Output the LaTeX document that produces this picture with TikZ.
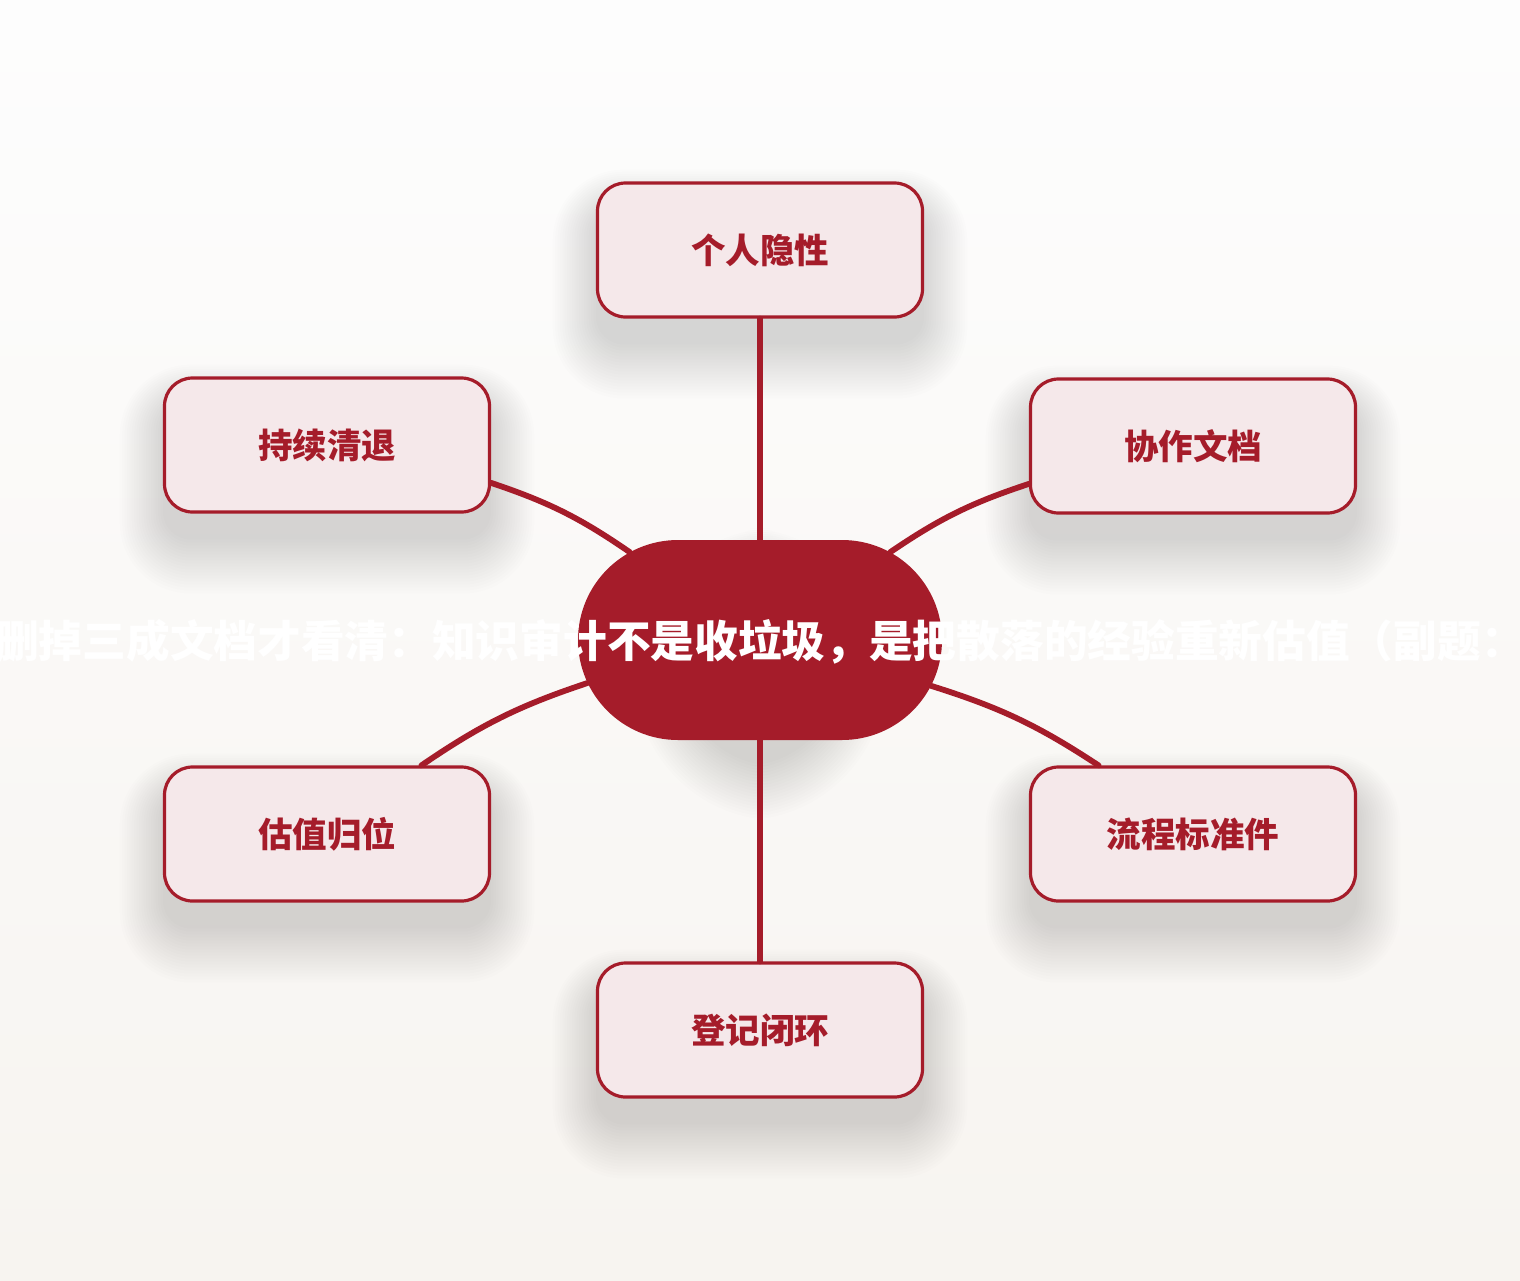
\documentclass[tikz,border=0pt]{standalone}
\usepackage{fontspec}
\newfontfamily\cjk{Noto Sans CJK SC}
\usetikzlibrary{shapes.misc}
\definecolor{brand}{HTML}{A51C2A}
\definecolor{boxfill}{HTML}{F5E8EA}
\definecolor{bgtop}{HTML}{FDFDFD}
\definecolor{bgbot}{HTML}{F7F4F0}
\definecolor{shadowtone}{HTML}{3A3A30}
\pgfdeclarelayer{bglayer}
\pgfdeclarelayer{shadowlayer}
\pgfsetlayers{bglayer,shadowlayer,main}
\newcommand\castshadow[2]{%
  \foreach \e in {0,3,...,54}{%
    \fill[shadowtone, fill opacity=0.0068, rounded corners=#2pt+0.8*\e pt]
      ([xshift=-0.8*\e pt, yshift=-26pt-\e pt]#1.south west) rectangle
      ([xshift=0.8*\e pt, yshift=-26pt+0.7*\e pt]#1.north east);
  }}
\tikzset{
  leaf/.style={draw=brand, line width=3.2pt, fill=boxfill, rounded corners=28pt,
    minimum width=325pt, minimum height=134pt, inner sep=0pt,
    font=\cjk\bfseries\fontsize{34.5pt}{40pt}\selectfont, text=brand},
  hub/.style={rounded rectangle, fill=brand, draw=none, minimum width=364pt, minimum height=200pt, inner sep=0pt},
  hubtext/.style={font=\cjk\bfseries\fontsize{43.7pt}{50pt}\selectfont, text=white, inner sep=0pt},
  link/.style={draw=brand, line width=5.8pt, line cap=round}
}
\begin{document}
\begin{tikzpicture}[x=1pt,y=-1pt]
\useasboundingbox (0,0) rectangle (1520,1280);
\clip (0,0) rectangle (1520,1280);
\begin{pgfonlayer}{bglayer}
\shade[top color=bgtop, bottom color=bgbot] (0,0) rectangle (1520,1280);
\end{pgfonlayer}

\node[hub] (c) at (760,640) {};
\node[leaf] (t) at (760,250) {个人隐性};
\node[leaf] (tl) at (327,445) {持续清退};
\node[leaf] (tr) at (1193,446) {协作文档};
\node[leaf] (bl) at (327,834) {估值归位};
\node[leaf] (br) at (1193,834) {流程标准件};
\node[leaf] (b) at (760,1030) {登记闭环};

\begin{pgfonlayer}{shadowlayer}
\castshadow{c}{100}
\castshadow{t}{28}
\castshadow{tl}{28}
\castshadow{tr}{28}
\castshadow{bl}{28}
\castshadow{br}{28}
\castshadow{b}{28}
\end{pgfonlayer}

\draw[link] (c.north) -- (t.south);
\draw[link] (c.south) -- (b.north);
\draw[link] (tl.-13.5) to[bend left=8] (c.146);
\draw[link] (c.34) to[bend left=8] (tr.193.5);
\draw[link] (c.194) to[bend right=8] (bl.36);
\draw[link] (c.-15) to[bend left=8] (br.144);

\node[hubtext] (ct) at (760,642) {删掉三成文档才看清：知识审计不是收垃圾，是把散落的经验重新估值（副题：};
\end{tikzpicture}
\end{document}
